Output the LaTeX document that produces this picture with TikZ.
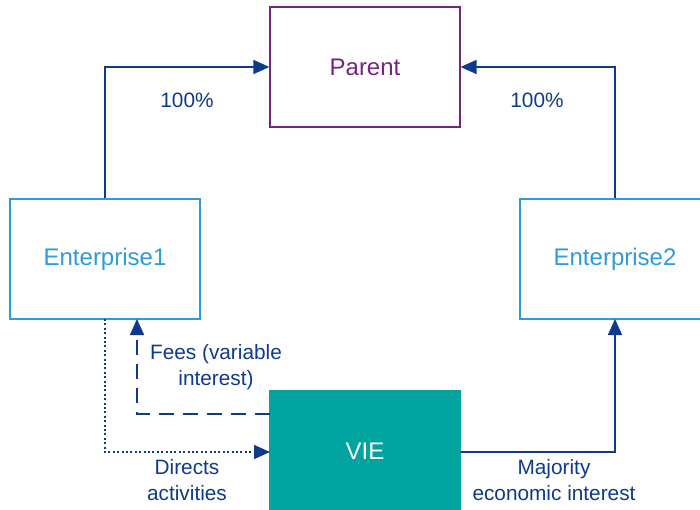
\documentclass[tikz,border=0pt]{standalone}
\usepackage{fontspec}
\setmainfont{Liberation Sans}
\usetikzlibrary{arrows.meta}
\definecolor{navy}{HTML}{0E3A8C}
\definecolor{purp}{HTML}{74267F}
\definecolor{lblue}{HTML}{2E9BDA}
\definecolor{teal}{HTML}{00A39E}
\tikzset{
  box/.style={draw, line width=0.9pt, minimum width=142.5pt, minimum height=90pt, inner sep=0pt, font=\fontsize{18}{20}\selectfont},
  conn/.style={draw=navy, line width=1.2pt, -{Triangle[width=10.5pt,length=12pt]}},
  lbl/.style={text=navy, font=\fontsize{15.6}{19.5}\selectfont, align=center, inner sep=0pt}
}
\begin{document}
\begin{tikzpicture}[x=0.75pt,y=-0.75pt]
\useasboundingbox (0,0) rectangle (700,510);
\node[box, draw=purp, text=purp] (parent) at (365,67) {Parent};
\node[box, draw=lblue, text=lblue] (e1) at (105,259) {Enterprise1};
\node[box, draw=lblue, text=lblue] (e2) at (615,259) {Enterprise2};
\node[box, draw=teal, fill=teal, text=white] (vie) at (365,451) {VIE};
\coordinate (c1) at (105,67);
\coordinate (c2) at (615,67);
\coordinate (d1) at (137,414);
\coordinate (d2) at (105,452);
\coordinate (d3) at (615,452);
\coordinate (vl1) at (270,414);
\coordinate (vl2) at (270,452);
\coordinate (vr) at (460,452);
\coordinate (e1a) at (137,319);
\coordinate (e1b) at (105,319);
\coordinate (e2b) at (615,319);
\draw[conn] (e1.north) -- (c1) -- (parent.west);
\draw[conn] (e2.north) -- (c2) -- (parent.east);
\draw[conn, dash pattern=on 11pt off 7pt] (vl1) -- (d1) -- (e1a);
\draw[conn, dash pattern=on 1.5pt off 1.8pt] (e1b) -- (d2) -- (vl2);
\draw[conn] (vr) -- (d3) -- (e2b);
\node[lbl] (l1) at (187,100) {100\%};
\node[lbl] (l2) at (537,100) {100\%};
\node[lbl] (l3) at (216,367) {Fees (variable\\interest)};
\node[lbl] (l4) at (187,480) {Directs\\activities};
\node[lbl] (l5) at (554,480) {Majority\\economic interest};
\end{tikzpicture}
\end{document}
